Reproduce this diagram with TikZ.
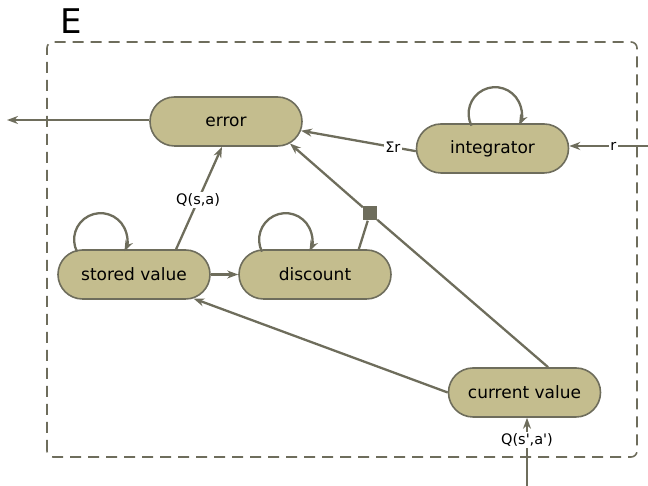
\documentclass[tikz,border=0pt]{standalone}
\usepackage{fontspec}
\setmainfont{DejaVu Sans}
\usetikzlibrary{shapes.misc,arrows.meta,calc}
\definecolor{fillc}{HTML}{C4BD8E}
\definecolor{linec}{HTML}{6E6D5C}
\begin{document}
\begin{tikzpicture}[x=1pt,y=1pt,
  state/.style={rounded rectangle, draw=linec, line width=1.6pt, fill=fillc,
    minimum width=152pt, minimum height=49pt, inner sep=0pt,
    font=\fontsize{17}{20}\selectfont},
  conn/.style={draw=linec, line width=2.3pt},
  arr/.style={conn, -{Stealth[length=11pt,width=8pt]}},
  lab/.style={fill=white, inner sep=1.5pt, text=black, font=\fontsize{14.5}{17}\selectfont}]
\useasboundingbox (0,0) rectangle (648,486);
\draw[linec, line width=1.6pt, dash pattern=on 11pt off 7pt, rounded corners=6pt] (47,29) rectangle (637,444);
\node[font=\fontsize{34}{40}\selectfont, inner sep=0pt] (E) at (71.5,465) {E};
\node[state] (err) at (226,364.5) {error};
\node[state] (integ) at (492.5,337.5) {integrator};
\node[state] (sv) at (134,211.5) {stored value};
\node[state] (disc) at (315,211.5) {discount};
\node[state] (cv) at (524.5,93.5) {current value};
\node[fill=linec, minimum size=14pt, inner sep=0pt] (sq) at (370,272.5) {};
\coordinate (outL) at (7,366);
\coordinate (rin) at (648,340);
\coordinate (qin) at (527,0);
% self loops
\draw[arr] ([shift={(-57,-2.5)}]sv.north) arc[start angle=207, end angle=-26, radius=26.5];
\draw[arr] ([shift={(-53,-2.5)}]disc.north) arc[start angle=207, end angle=-26, radius=26.5];
\draw[arr] ([shift={(-21,-2.5)}]integ.north) arc[start angle=207, end angle=-26, radius=26.5];
% connectors
\draw[arr] (err.west |- outL) -- (outL);
\draw[arr] (rin) -- node[lab,pos=0.44]{r} (rin -| integ.east);
\draw[arr] (integ.182) -- node[lab,pos=0.2]{Σr} (err.-7);
\draw[arr] (sq) -- (err.-19);
\draw[conn] (cv.47) -- (sq);
\draw[conn] (disc.30) -- (sq);
\draw[arr] (sv.31.5) -- node[lab,pos=0.48]{Q(s,a)} (err.-99);
\draw[arr] (sv.east) -- (disc.west);
\draw[arr] (cv.west) -- (sv.-22);
\draw[arr] (qin) -- node[lab,pos=0.67]{Q(s\textquotesingle,a\textquotesingle)} (qin |- cv.south);
\end{tikzpicture}
\end{document}
